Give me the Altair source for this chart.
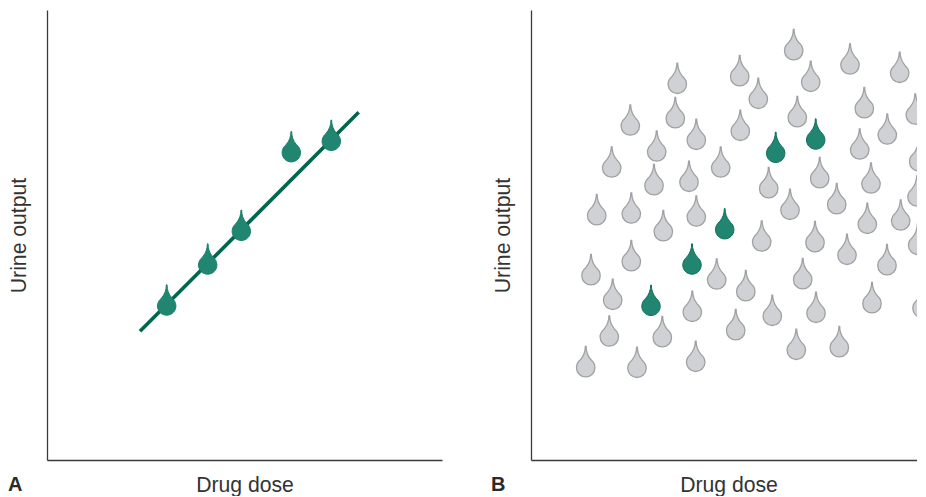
import altair as alt
import pandas as pd

# Panel A: responses of one subject (x = dose, y = urine output, arbitrary units)
a_dose = [119.7, 160.7, 194.3, 244.3, 284.3]
a_urine = [154.0, 195.0, 228.7, 307.3, 318.7]
fit_dose = [93.0, 311.7]
fit_urine = [128.7, 347.7]

# Panel B: the same highlighted responses among a population
b_green_dose = [120.0, 161.0, 193.7, 244.7, 284.7]
b_green_urine = [153.7, 195.0, 230.3, 306.7, 320.0]
b_grey_dose = [146.3, 208.7, 144.3, 99.3, 165.3, 209.3, 125.7, 80.7, 189.7, 123.0, 158.0,
               262.7, 319.0, 368.7, 279.7, 227.3, 333.3, 384.3, 266.3, 356.3, 328.7, 387.7,
               288.7, 237.7, 340.0, 386.0, 259.0, 305.7, 336.3, 369.7, 230.7, 284.0, 316.0,
               386.7, 356.0, 271.7, 214.8, 341.0, 391.0, 241.3, 285.0, 265.3, 308.3, 65.7,
               100.3, 132.3, 165.3, 100.3, 60.0, 185.7, 81.7, 161.3, 204.7, 78.3, 131.3,
               54.7, 106.0, 164.7]
b_grey_urine = [375.7, 383.3, 341.3, 334.0, 319.7, 328.7, 308.0, 292.0, 292.0, 274.3, 277.7,
                409.3, 395.0, 386.7, 377.7, 360.7, 351.3, 345.0, 342.3, 325.0, 310.0, 298.3,
                281.3, 271.3, 276.0, 263.0, 249.7, 255.3, 235.7, 239.0, 218.0, 217.3, 204.7,
                214.7, 194.3, 180.3, 168.3, 156.3, 151.7, 143.7, 146.7, 109.7, 112.3, 244.3,
                246.0, 228.3, 243.0, 198.3, 184.3, 180.0, 159.7, 147.7, 129.3, 123.0, 122.3,
                92.3, 91.7, 97.7]

X_TITLE = "Drug dose"
Y_TITLE = "Urine output"
PANELS = ["A", "B"]

FONT = "Liberation Sans"
DROP = ("M -0.04 -2.3 L 0.04 -2.3 C 0.04 -1.75 0.2 -1.3 0.55 -0.88 "
        "C 0.82 -0.66 1 -0.35 1 0 C 1 0.552 0.552 1 0 1 C -0.552 1 -1 0.552 -1 0 "
        "C -1 -0.35 -0.82 -0.66 -0.55 -0.88 C -0.2 -1.3 -0.04 -1.75 -0.04 -2.3 Z")
SIZE = 340


def x_enc(domain_max):
    return alt.X("dose:Q", scale=alt.Scale(domain=[0, domain_max], nice=False, zero=False),
                 axis=alt.Axis(title=X_TITLE, grid=False, ticks=False, labels=False,
                               domainColor="#3a3a3a", domainWidth=1.3, titleFont=FONT,
                               titleFontSize=21.2, titleFontWeight="normal", titleColor="#333333",
                               titlePadding=14, titleX=197.5))


y_enc = alt.Y("urine:Q", scale=alt.Scale(domain=[0, 450], nice=False, zero=False),
              axis=alt.Axis(title=Y_TITLE, grid=False, ticks=False, labels=False,
                            domainColor="#3a3a3a", domainWidth=1.3, titleFont=FONT,
                            titleFontSize=21.2, titleFontWeight="normal", titleColor="#333333",
                            titlePadding=18))


def drops(dose, urine, fill, stroke, xe, width=1.0, clip=False):
    df = pd.DataFrame({"dose": dose, "urine": urine})
    return alt.Chart(df).mark_point(shape=DROP, size=SIZE, filled=True, fill=fill, opacity=1,
                                    stroke=stroke, strokeWidth=width, clip=clip).encode(x=xe, y=y_enc)


def tag(letter, x):
    return alt.Chart(alt.Data(values=[{"k": 0}])).mark_text(
        text=letter, font=FONT, fontSize=20, fontWeight="bold", color="#2a2a2a",
        align="left", baseline="middle").encode(x=alt.value(x), y=alt.value(475))


xa = x_enc(395)
xb = x_enc(386)

line = alt.Chart(pd.DataFrame({"dose": fit_dose, "urine": fit_urine})).mark_line(
    color="#02664f", strokeWidth=3.6).encode(x=xa, y=y_enc)

left = alt.layer(
    line,
    drops(a_dose, a_urine, "#208571", "#1c8069", xa),
    tag(PANELS[0], -39),
).properties(width=395, height=450)

right = alt.layer(
    drops(b_grey_dose, b_grey_urine, "#d0d1d4", "#a0a1a4", xb, width=1.3, clip=True),
    drops(b_green_dose, b_green_urine, "#208571", "#0f6f5a", xb, clip=True),
    tag(PANELS[1], -40),
).properties(width=386, height=450)

chart = alt.hconcat(left, right, spacing=49).properties(
    padding={"left": 0, "top": 2, "right": 0, "bottom": 0}
).configure_view(stroke=None).configure_concat(spacing=49)

chart.save("out.html", embed_options={"renderer": "svg", "actions": False})
